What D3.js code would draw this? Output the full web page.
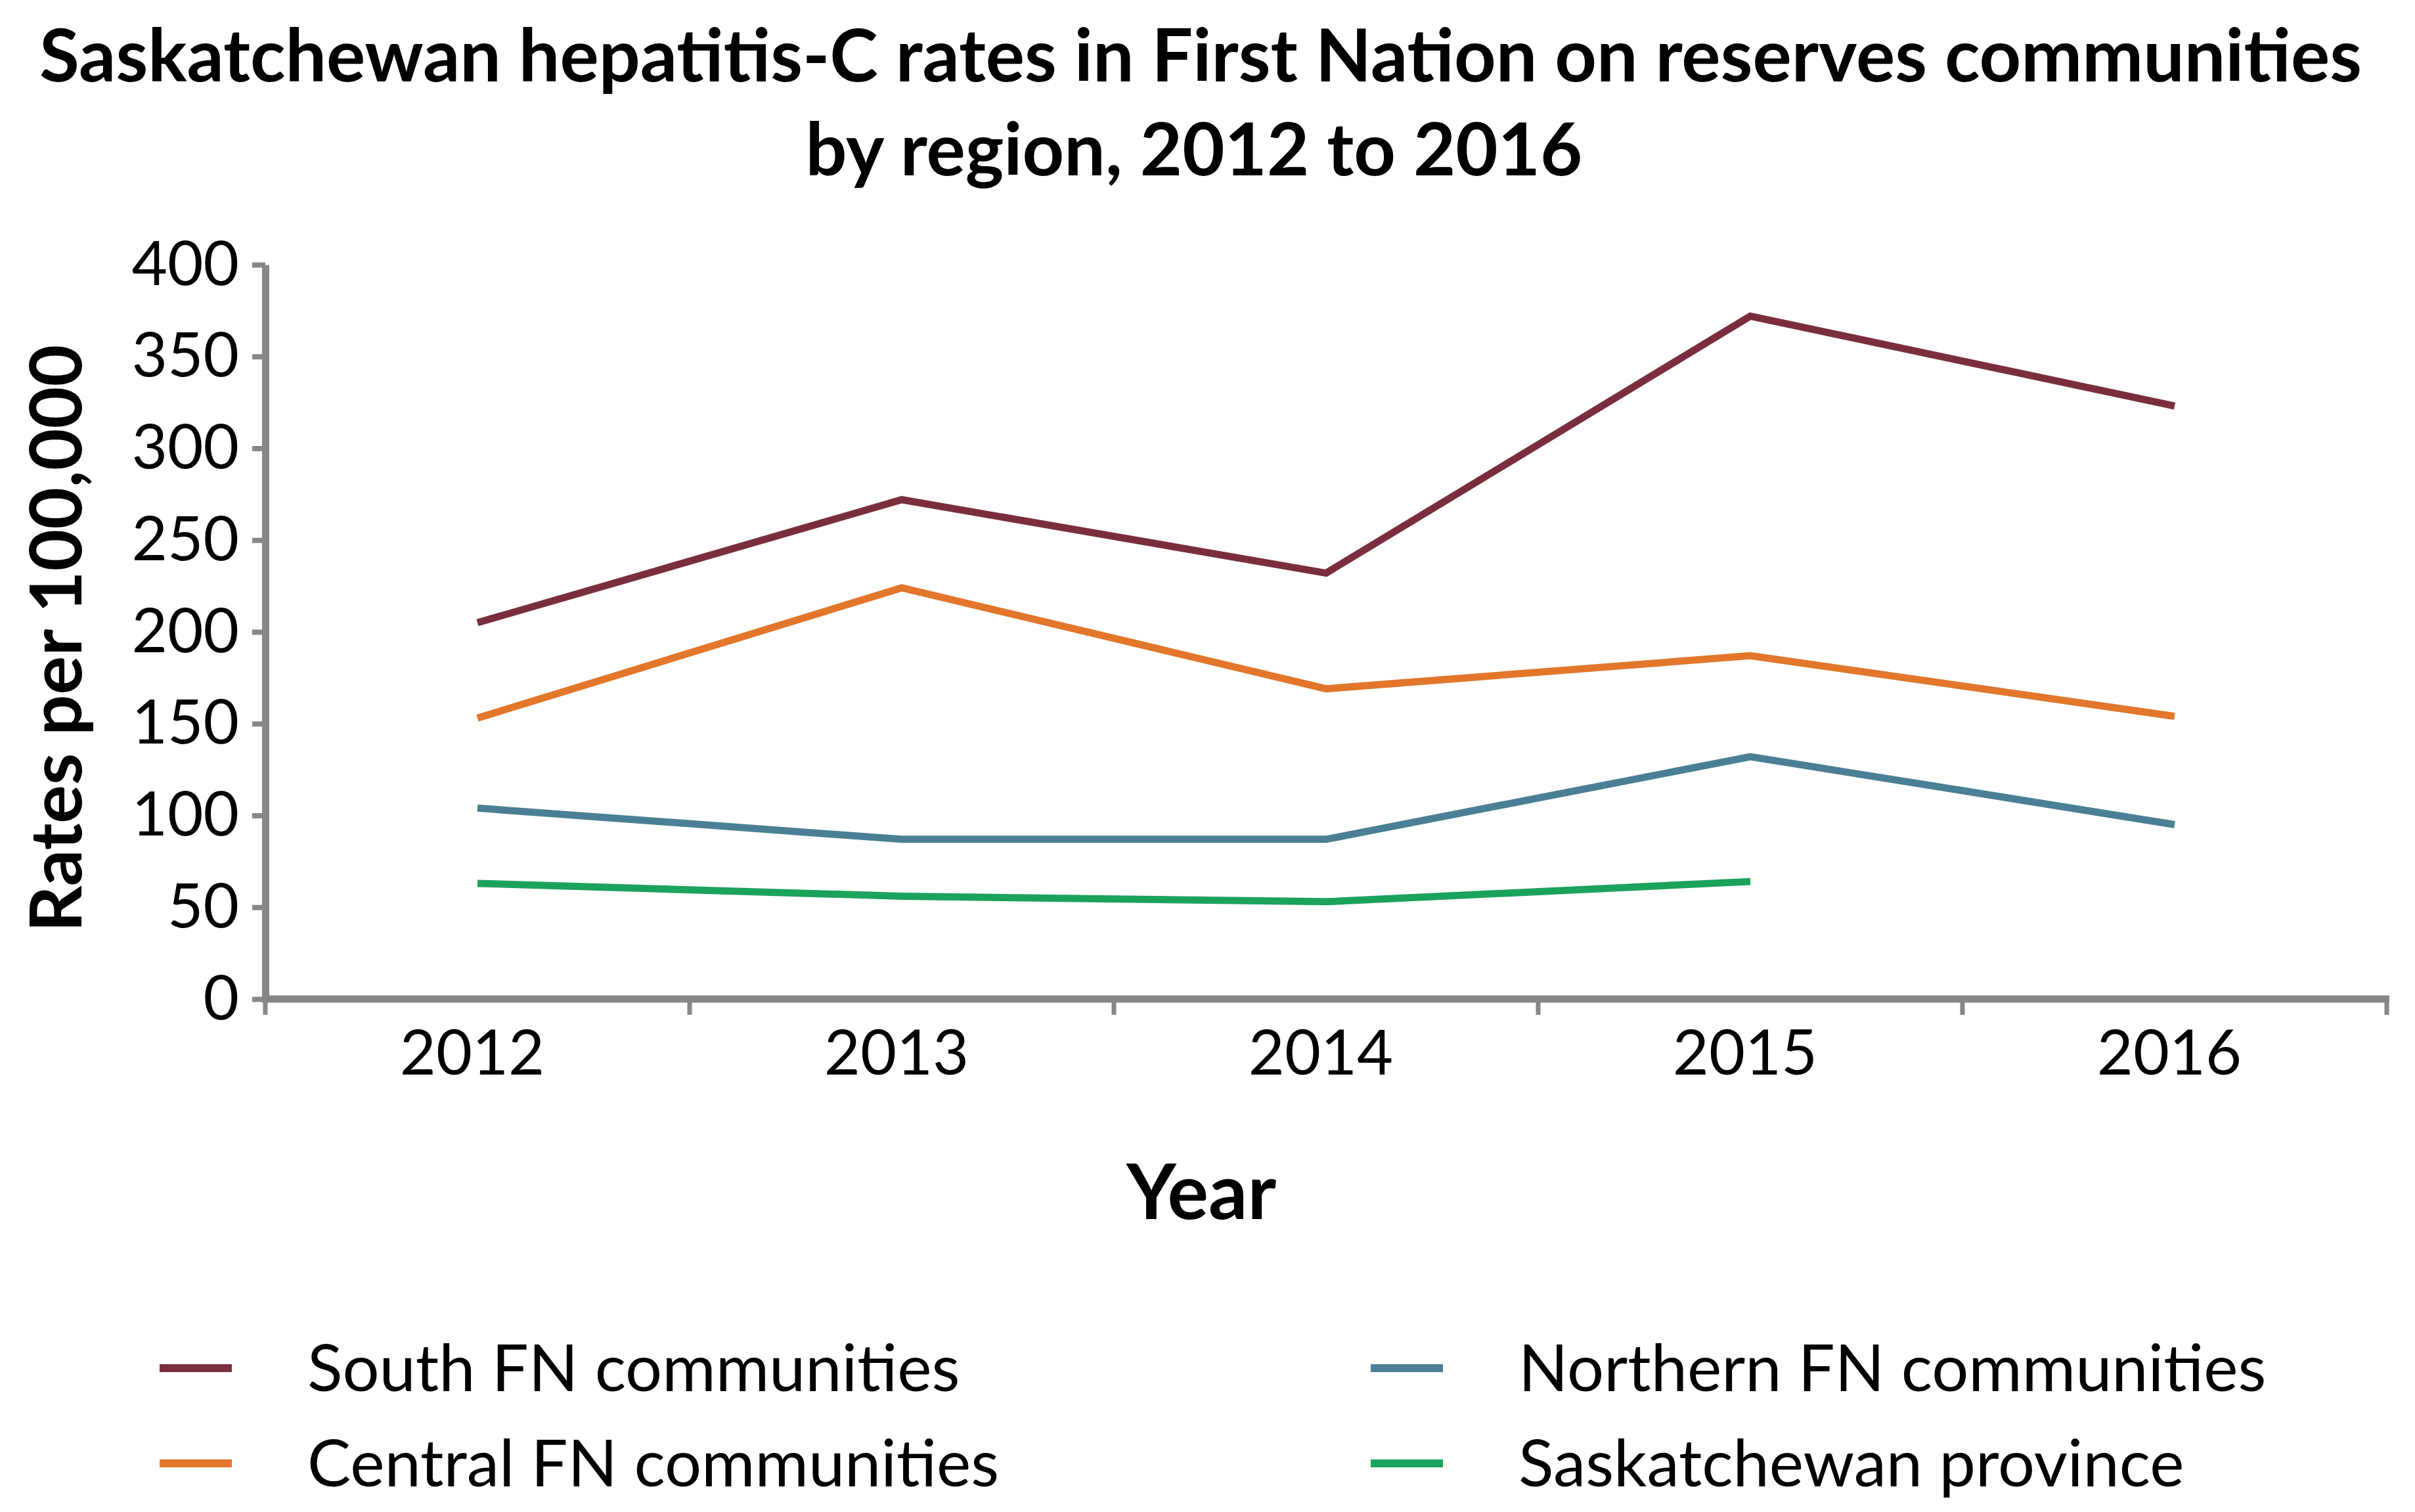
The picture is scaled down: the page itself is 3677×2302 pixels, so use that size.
<!DOCTYPE html>
<html>
<head>
<meta charset="utf-8">
<script src="https://cdn.jsdelivr.net/npm/d3@7"></script>
<style>
  body { margin: 0; background: #fff; }
  text { font-family: Lato, "Open Sans", sans-serif; fill: #000; }
</style>
</head>
<body>
<script>
const years = ['2012', '2013', '2014', '2015', '2016'];
const yTicks = [0, 50, 100, 150, 200, 250, 300, 350, 400];

const southFN = [205, 272, 232, 372, 323];
const centralFN = [153, 224, 169, 187, 154];
const northernFN = [104, 87, 87, 132, 95];
const saskProvince = [63, 56, 53, 64, null];

const seriesNames = ['South FN communities', 'Northern FN communities', 'Central FN communities', 'Saskatchewan province'];
const seriesColors = ['#7a2e3c', '#4a7f95', '#e2762a', '#1ba35c'];
const seriesValues = [southFN, northernFN, centralFN, saskProvince];

const width = 3677;
const height = 2302;
const plot = { left: 404, right: 3634, top: 403, bottom: 1521 };
const axisColor = '#878787';

const svg = d3.select('body')
  .append('svg')
  .attr('width', width)
  .attr('height', height);

// title, two lines
svg.append('text')
  .attr('x', 1828)
  .attr('y', 124)
  .style('font-size', '111px')
  .style('font-weight', 'bold')
  .style('text-anchor', 'middle')
  .text('Saskatchewan hepatitis-C rates in First Nation on reserves communities');

svg.append('text')
  .attr('x', 1818)
  .attr('y', 267)
  .style('font-size', '111px')
  .style('font-weight', 'bold')
  .style('text-anchor', 'middle')
  .text('by region, 2012 to 2016');

const xScale = d3.scaleBand()
  .domain(years)
  .range([plot.left, plot.right]);

const yScale = d3.scaleLinear()
  .domain([0, 400])
  .range([plot.bottom, plot.top]);

// y axis
const yAxis = svg.append('g')
  .attr('transform', 'translate(' + plot.left + ',0)')
  .call(d3.axisLeft(yScale).tickValues(yTicks).tickSize(20).tickSizeOuter(0).tickPadding(20));

yAxis.select('.domain').attr('stroke', axisColor).attr('stroke-width', 11);
yAxis.selectAll('.tick line').attr('stroke', axisColor).attr('stroke-width', 8);
yAxis.selectAll('.tick text')
  .style('font-size', '94px')
  .style('font-family', 'Lato, sans-serif')
  .attr('fill', '#000');

// x axis: labels centred in bands, tick marks on band edges
const xAxis = svg.append('g')
  .attr('transform', 'translate(0,' + plot.bottom + ')')
  .call(d3.axisBottom(xScale).tickSize(0).tickSizeOuter(0).tickPadding(48));

xAxis.select('.domain').remove();
xAxis.selectAll('.tick text')
  .attr('dx', -8)
  .style('font-size', '95px')
  .style('font-family', 'Lato, sans-serif')
  .attr('fill', '#000');

const edges = years.map((d) => xScale(d)).concat([plot.right]);

svg.append('g')
  .selectAll('line')
  .data(edges)
  .enter()
  .append('line')
  .attr('x1', (d) => d)
  .attr('x2', (d) => d)
  .attr('y1', plot.bottom)
  .attr('y2', plot.bottom + 24)
  .attr('stroke', axisColor)
  .attr('stroke-width', 7);

svg.append('line')
  .attr('x1', plot.left - 5)
  .attr('x2', plot.right + 4)
  .attr('y1', plot.bottom)
  .attr('y2', plot.bottom)
  .attr('stroke', axisColor)
  .attr('stroke-width', 11);

// axis titles
svg.append('text')
  .attr('transform', 'translate(124,972) rotate(-90)')
  .style('font-size', '110px')
  .style('font-weight', 'bold')
  .style('text-anchor', 'middle')
  .text('Rates per 100,000');

svg.append('text')
  .attr('x', 1829)
  .attr('y', 1856)
  .style('font-size', '117px')
  .style('font-weight', 'bold')
  .style('text-anchor', 'middle')
  .text('Year');

// lines
const line = d3.line()
  .defined((d) => d != null)
  .x((d, i) => xScale(years[i]) + xScale.bandwidth() / 2)
  .y((d) => yScale(d));

svg.append('g')
  .selectAll('path')
  .data(seriesValues)
  .enter()
  .append('path')
  .attr('d', (d) => line(d))
  .attr('fill', 'none')
  .attr('stroke', (d, i) => seriesColors[i])
  .attr('stroke-width', 11)
  .attr('stroke-linejoin', 'miter');

// legend, two columns
const legend = svg.append('g')
  .selectAll('g')
  .data(seriesNames)
  .enter()
  .append('g')
  .attr('transform', (d, i) => 'translate(' + (i % 2 === 0 ? 243 : 2087) + ',' + (i < 2 ? 2083 : 2228) + ')');

legend.append('line')
  .attr('x1', 0)
  .attr('x2', 110)
  .attr('stroke', (d, i) => seriesColors[i])
  .attr('stroke-width', 12);

legend.append('text')
  .attr('x', 225)
  .attr('dy', '0.35em')
  .style('font-size', '99px')
  .text((d) => d);
</script>
</body>
</html>
